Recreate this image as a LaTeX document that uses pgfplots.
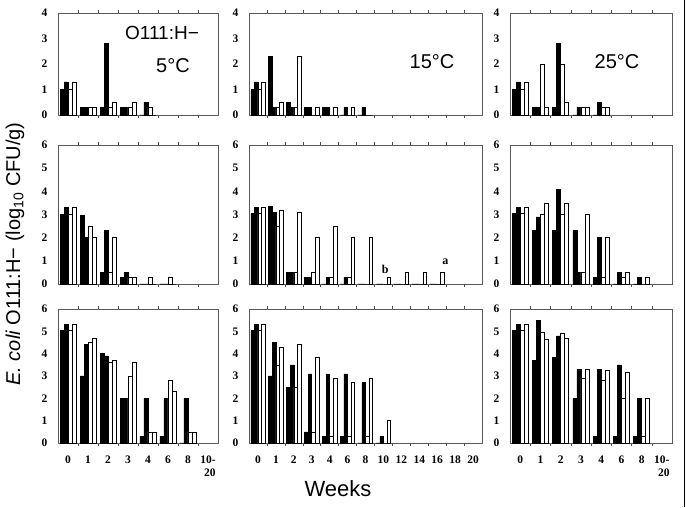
\documentclass[border=0pt]{standalone}
\usepackage{fontspec}
\setmainfont{Liberation Serif}
\newfontfamily\arial{Liberation Sans}
\usepackage{pgfplots}
\usepackage{pgfplotstable}
\pgfplotsset{compat=1.18}

% columns: x = category index, b1 b2 = black bars, w1 w2 = white bars
\pgfplotstableread{
x b1 b2 w1 w2
0 1.0 1.3 1.0 1.3
1 0.3 0.3 0.3 0.3
2 0.3 2.8 0.3 0.5
3 0.3 0.3 0.3 0.5
4 0 0.5 0.3 0
}\TL
\pgfplotstableread{
x b1 b2 w1 w2
0 1.0 1.3 1.0 1.3
1 2.3 0.3 0.3 0.5
2 0.5 0.3 0.3 2.3
3 0.3 0.3 0 0.3
4 0.3 0.3 0 0.3
5 0 0.3 0 0.3
6 0 0.3 0 0
}\TM
\pgfplotstableread{
x b1 b2 w1 w2
0 1.0 1.3 1.0 1.3
1 0.3 0.3 2.0 0.3
2 0.3 2.8 2.0 0.5
3 0 0.3 0.3 0.3
4 0 0.5 0.3 0.3
}\TR
\pgfplotstableread{
x b1 b2 w1 w2
0 3.0 3.3 3.0 3.3
1 2.95 2.0 2.5 2.0
2 0.5 2.3 0.5 2.0
3 0.3 0.5 0.3 0.3
4 0 0 0.3 0
5 0 0 0.3 0
}\ML
\pgfplotstableread{
x b1 b2 w1 w2
0 3.05 3.3 3.05 3.3
1 3.35 3.1 2.5 3.2
2 0.5 0.5 0.5 3.1
3 0.3 0.3 0.5 2.0
4 0 0.3 0.3 2.5
5 0 0.3 0.3 2.0
6 0 0 0 2.0
7 0 0 0 0.3
8 0 0 0 0.5
9 0 0 0 0.5
10 0 0 0 0.5
}\MM
\pgfplotstableread{
x b1 b2 w1 w2
0 3.05 3.3 3.05 3.3
1 2.3 2.9 3.0 3.5
2 2.3 4.1 3.0 3.5
3 2.3 0.5 0.5 3.0
4 0.3 2.0 0.3 2.0
5 0 0.5 0.3 0.5
6 0 0.3 0 0.3
}\MR
\pgfplotstableread{
x b1 b2 w1 w2
0 5.05 5.3 5.05 5.3
1 3.0 4.4 4.5 4.7
2 4.0 3.9 3.6 3.7
3 2.0 2.0 3.0 3.6
4 0.3 2.0 0.5 0.5
5 0.3 2.0 2.8 2.3
6 0 2.0 0.5 0.5
}\BL
\pgfplotstableread{
x b1 b2 w1 w2
0 5.05 5.3 5.05 5.3
1 3.0 4.5 3.5 4.3
2 2.5 3.5 2.5 4.4
3 0.5 3.1 0.5 3.85
4 0.3 3.1 0.3 2.9
5 0.3 3.1 0.3 2.7
6 0 2.7 0.3 2.9
7 0 0.3 0 1.0
}\BM
\pgfplotstableread{
x b1 b2 w1 w2
0 5.05 5.3 5.05 5.3
1 3.7 5.5 4.95 4.65
2 3.85 4.8 4.9 4.7
3 2.0 3.3 2.9 3.3
4 0.3 3.3 2.8 3.25
5 0.3 3.5 2.0 3.15
6 0.3 2.0 0.3 2.0
}\BR

\pgfplotsset{
  panel/.style={
    scale only axis, anchor=north west,
    axis line style={draw=black!65, line width=0.6pt},
    ymin=0, xmin=-0.5,
    ytick distance=1,
    major tick length=0pt,
    minor tick length=3pt,
    minor tick style={black!70, line width=0.5pt},
    xtick align=outside,
    /pgf/number format/assume math mode=true,
    tick label style={font=\fontsize{11.5}{13.5}\selectfont\bfseries},
    yticklabel style={xshift=-7pt},
    xticklabel style={align=center, yshift=-9pt},
    clip=false,
  },
  side/.style={xmax=7.5, xtick={0,...,7}, minor xtick={0.5,1.5,...,6.5}},
  mid/.style={xmax=12.5, xtick={0,...,12}, minor xtick={0.5,1.5,...,11.5}},
  nolab/.style={xticklabels={}},
  blk/.style={ybar, bar width=0.2, bar shift=0pt, fill=black, draw=black, line width=0.5pt},
  wht/.style={ybar, bar width=0.2, bar shift=0pt, fill=white, draw=black, line width=0.6pt},
}
\newcommand{\bars}[1]{%
  \addplot[blk] table[x expr=\thisrow{x}-0.3, y=b1]{#1};
  \addplot[blk] table[x expr=\thisrow{x}-0.1, y=b2]{#1};
  \addplot[wht] table[x expr=\thisrow{x}+0.1, y=w1]{#1};
  \addplot[wht] table[x expr=\thisrow{x}+0.3, y=w2]{#1};
}

\begin{document}
\begin{tikzpicture}[x=1pt,y=1pt]
\path[use as bounding box] (0,0) rectangle (686,507);

% top row
\begin{axis}[panel, side, nolab, at={(58pt,494pt)}, width=160pt, height=102pt, ymax=4]
\bars{\TL}
\end{axis}
\begin{axis}[panel, mid, nolab, at={(249pt,494pt)}, width=233pt, height=102pt, ymax=4]
\bars{\TM}
\end{axis}
\begin{axis}[panel, side, nolab, at={(510pt,494pt)}, width=162pt, height=102pt, ymax=4]
\bars{\TR}
\end{axis}

% middle row
\begin{axis}[panel, side, nolab, at={(58pt,362pt)}, width=160pt, height=139pt, ymax=6]
\bars{\ML}
\end{axis}
\begin{axis}[panel, mid, nolab, at={(249pt,362pt)}, width=233pt, height=139pt, ymax=6]
\bars{\MM}
\node[font=\fontsize{12}{13}\selectfont\bfseries] at (axis cs:7.1,0.65) {b};
\node[font=\fontsize{12}{13}\selectfont\bfseries] at (axis cs:10.45,0.95) {a};
\end{axis}
\begin{axis}[panel, side, nolab, at={(510pt,362pt)}, width=162pt, height=139pt, ymax=6]
\bars{\MR}
\end{axis}

% bottom row
\begin{axis}[panel, side, at={(58pt,198pt)}, width=160pt, height=134pt, ymax=6,
  xticklabels={0,1,2,3,4,6,8,{10-\\\hspace*{4pt}20}}]
\bars{\BL}
\end{axis}
\begin{axis}[panel, mid, at={(249pt,198pt)}, width=233pt, height=134pt, ymax=6,
  xticklabels={0,1,2,3,4,6,8,10,12,14,16,18,20}]
\bars{\BM}
\end{axis}
\begin{axis}[panel, side, at={(510pt,198pt)}, width=162pt, height=134pt, ymax=6,
  xticklabels={0,1,2,3,4,6,8,{10-\\\hspace*{4pt}20}}]
\bars{\BR}
\end{axis}

% panel texts
\node[font=\arial\fontsize{19}{22}\selectfont] at (162,474) {O111:H−};
\node[font=\arial\fontsize{20}{22}\selectfont] at (173,441) {5°C};
\node[font=\arial\fontsize{20}{22}\selectfont] at (432,445) {15°C};
\node[font=\arial\fontsize{20}{22}\selectfont] at (617,445) {25°C};

% axis titles
\node[font=\arial\fontsize{22}{24}\selectfont] at (338,18) {Weeks};
\node[rotate=90, font=\arial\fontsize{20}{24}\selectfont] at (15,253)
  {\textit{E. coli} O111:H− (log\textsubscript{10} CFU/g)};

% scan border on the right
\draw[line width=0.8pt] (684,0) -- (684,507);
\end{tikzpicture}
\end{document}
